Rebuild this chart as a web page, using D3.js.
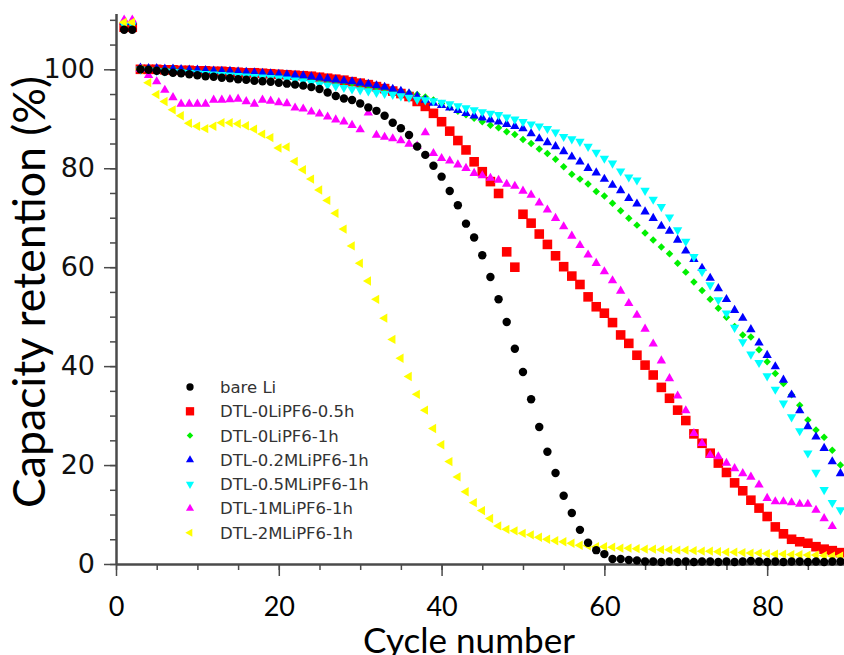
<!DOCTYPE html>
<html>
  <head>
    <title>Capacity retention vs cycle number</title>
    <meta charset="utf-8">
    <script src="https://d3js.org/d3.v7.min.js"></script>
    <style>
      body { margin: 0; background: #fff; }
      svg { display: block; }
    </style>
  </head>
  <body>
    <div id="chart"></div>

    <script>

        // capacity retention (%) per cycle, cycle 1 first
        const bareLi = [108, 108, 100, 99.9, 99.7, 99.5, 99.3, 99.2, 99.0, 98.8,
            98.6, 98.5, 98.3, 98.2, 98.0, 97.9, 97.7, 97.6, 97.5, 97.3,
            97.1, 96.9, 96.7, 96.4, 96.0, 95.3, 94.6, 94.1, 93.8, 93.1,
            92.3, 91.6, 90.6, 89.2, 88.1, 86.7, 84.4, 82.7, 80.5, 78.3,
            75.4, 72.5, 68.8, 66.0, 62.4, 58.0, 53.5, 48.9, 43.5, 38.8,
            33.3, 27.7, 22.7, 18.4, 13.8, 10.3, 6.9, 4.3, 2.8, 2.0,
            1.0, 1.0, 0.8, 0.7, 0.5, 0.5, 0.4, 0.5, 0.4, 0.5,
            0.4, 0.5, 0.5, 0.4, 0.5, 0.4, 0.5, 0.6, 0.5, 0.4,
            0.5, 0.4, 0.5, 0.5, 0.4, 0.5, 0.4, 0.5, 0.5]

        const dtl0_05h = [108.5, 108.5, 100, 100, 100, 99.9, 99.9, 99.8, 99.8, 99.7,
            99.7, 99.6, 99.6, 99.5, 99.4, 99.3, 99.3, 99.2, 99.1, 99.0,
            98.9, 98.8, 98.7, 98.6, 98.4, 98.2, 98.0, 97.8, 97.5, 97.2,
            96.9, 96.5, 96.1, 95.6, 95.1, 94.5, 93.5, 92.5, 91.1, 89.4,
            87.5, 85.6, 83.7, 81.3, 79.3, 77.3, 74.9, 63.1, 60.0, 70.7,
            68.9, 66.7, 64.6, 62.3, 60.1, 58.2, 56.5, 54.0, 52.0, 50.7,
            48.8, 46.3, 44.6, 42.2, 40.2, 38.2, 35.7, 33.5, 31.1, 29.0,
            26.3, 24.4, 22.4, 20.4, 18.5, 16.4, 14.8, 12.9, 11.3, 9.6,
            7.5, 6.1, 5.0, 4.5, 4.2, 3.5, 3.0, 2.7, 2.3]

        const dtl0_1h = [109, 109, 100.2, 100.3, 100.2, 100.1, 100.2, 100, 99.9, 99.8,
            99.7, 99.7, 99.6, 99.5, 99.4, 99.3, 99.2, 99.1, 99.0, 98.9,
            98.8, 98.6, 98.5, 98.3, 98.1, 97.9, 97.7, 97.5, 97.2, 97.0,
            96.7, 96.4, 96.1, 95.8, 95.5, 95.2, 94.9, 94.4, 93.8, 93.1,
            92.3, 91.5, 90.8, 90.1, 89.4, 88.7, 88.2, 87.4, 86.8, 85.8,
            85.0, 83.9, 83.0, 81.8, 80.3, 78.8, 77.8, 76.8, 75.3, 74.4,
            72.9, 71.4, 69.9, 68.5, 66.9, 65.5, 64.1, 62.7, 60.8, 59.0,
            57.0, 55.3, 53.5, 51.7, 49.9, 48.0, 46.3, 45.9, 43.3, 40.9,
            38.5, 36.5, 34.2, 32.1, 29.1, 27.1, 25.6, 23.0, 20.0]

        const dtl02M = [109.5, 109.5, 100.3, 100.2, 100.2, 100.1, 100.1, 100, 99.9, 99.9,
            99.8, 99.7, 99.6, 99.6, 99.5, 99.4, 99.3, 99.2, 99.1, 99.0,
            98.9, 98.8, 98.7, 98.5, 98.3, 98.1, 97.9, 97.7, 97.5, 97.2,
            97.0, 96.7, 96.4, 96.0, 95.6, 95.1, 94.5, 93.8, 93.2, 92.7,
            92.2, 91.7, 91.1, 90.6, 90.2, 89.8, 89.4, 88.9, 88.5, 88.0,
            87.0, 86.0, 85.2, 84.4, 83.4, 82.3, 81.3, 80.0, 79.1, 77.8,
            76.6, 75.5, 73.9, 72.8, 71.2, 69.9, 68.3, 67.3, 65.5, 63.3,
            61.6, 59.8, 57.8, 55.7, 53.5, 51.3, 49.7, 47.4, 44.7, 42.2,
            39.9, 37.2, 34.2, 31.0, 27.8, 25.7, 23.4, 20.7, 18.3]

        const dtl05M = [109, 109, 100, 99.8, 99.7, 99.6, 99.5, 99.4, 99.3, 99.2,
            99.1, 99.0, 98.9, 98.8, 98.7, 98.6, 98.5, 98.4, 98.3, 98.2,
            98.0, 97.8, 97.6, 97.3, 97.0, 96.8, 96.6, 96.3, 96.0, 95.8,
            95.6, 95.3, 95.1, 94.9, 94.6, 94.3, 93.9, 93.8, 93.6, 93.3,
            93.0, 92.6, 92.2, 91.8, 91.4, 91.1, 90.8, 90.3, 89.9, 89.4,
            88.9, 88.5, 88.0, 87.3, 86.4, 85.9, 85.4, 84.4, 83.2, 82.0,
            81.0, 79.4, 78.2, 77.6, 75.5, 73.7, 72.2, 70.1, 67.5, 65.2,
            62.1, 59.1, 56.4, 53.4, 50.7, 47.8, 44.9, 42.4, 40.7, 38.0,
            35.3, 32.5, 29.7, 26.9, 22.4, 18.5, 15.0, 12.4, 10.9]

        const dtl1M = [110, 110, 100, 98.8, 97.5, 95.8, 94.3, 93.0, 93.0, 93.0,
            93.0, 93.8, 93.8, 93.9, 94.0, 93.5, 93.0, 93.8, 93.6, 93.3,
            93.1, 92.2, 92.0, 91.4, 91.0, 90.4, 89.8, 89.4, 88.7, 87.8,
            91.2, 86.7, 86.3, 86.0, 85.6, 84.9, 84.5, 87.2, 83.0, 82.0,
            81.5, 80.7, 80.0, 79.0, 78.5, 78.0, 77.6, 76.8, 76.4, 75.4,
            74.6, 73.0, 71.6, 69.9, 68.2, 66.3, 64.4, 62.5, 60.8, 59.1,
            57.3, 55.2, 52.7, 50.3, 47.5, 44.5, 41.1, 37.5, 34.0, 31.0,
            26.4, 24.4, 22.0, 21.7, 20.4, 19.3, 18.3, 17.6, 16.0, 13.3,
            12.6, 12.6, 12.4, 12.1, 12.1, 10.9, 9.2, 7.6, null]

        const dtl2M = [109.5, 109.5, 100, 97.3, 94.9, 93.5, 91.8, 90.6, 89.1, 88.5,
            88.0, 88.5, 89.2, 89.2, 89.0, 88.6, 87.9, 86.9, 86.2, 84.1,
            84.3, 81.4, 79.7, 77.8, 75.6, 73.5, 70.9, 67.7, 64.3, 60.8,
            57.2, 53.5, 49.7, 45.4, 41.6, 37.9, 34.3, 31.1, 27.4, 24.1,
            20.7, 17.6, 14.6, 12.4, 10.8, 9.2, 7.7, 7.0, 6.7, 6.2,
            5.9, 5.4, 5.0, 4.7, 4.5, 4.2, 3.8, 3.7, 3.5, 3.5,
            3.4, 3.2, 3.2, 3.1, 3.0, 3.0, 2.9, 2.9, 2.8, 2.8,
            2.7, 2.6, 2.6, 2.5, 2.4, 2.4, 2.3, 2.2, 2.2, 2.1,
            2.0, 2.0, 1.9, 1.9, 1.8, 1.8, 1.7, 1.6, 1.6]

        const seriesNames  = ['bare Li', 'DTL-0LiPF6-0.5h', 'DTL-0LiPF6-1h', 'DTL-0.2MLiPF6-1h',
                              'DTL-0.5MLiPF6-1h', 'DTL-1MLiPF6-1h', 'DTL-2MLiPF6-1h']
        const seriesValues = [bareLi, dtl0_05h, dtl0_1h, dtl02M, dtl05M, dtl1M, dtl2M]
        const seriesColors = ['#000000', '#ff0000', '#00f000', '#0000ff', '#00ffff', '#ff00ff', '#ffff00']
        const seriesShapes = ['circle', 'square', 'diamond', 'up', 'down', 'up', 'left']

        const xMajorTicks = [0, 20, 40, 60, 80]
        const yMajorTicks = [0, 20, 40, 60, 80, 100]

        const W = 844, H = 655

        let svg = d3.select('#chart').append('svg')
                .attr('width', W)
                .attr('height', H),

            x = d3.scaleLinear().domain([0, 89.44]).range([116, 844]),
            y = d3.scaleLinear().domain([0, 111.3]).range([564, 13.4])

        function symbolPath(shape, scale) {
            let s = scale || 1
            if (shape == 'circle') return d3.symbol(d3.symbolCircle, 56 * s)()
            if (shape == 'square') return d3.symbol(d3.symbolSquare, 92 * s)()
            if (shape == 'diamond') return d3.symbol(d3.symbolSquare, 28 * s)()
            return d3.symbol(d3.symbolTriangle, 38 * s)()
        }

        function symbolRotation(shape) {
            if (shape == 'diamond') return 45
            if (shape == 'down') return 180
            if (shape == 'left') return -90
            return 0
        }

        // ---- axes ----
        let axisColor = '#4a4a4a'

        let yMinor = svg.append('g')
            .attr('transform', `translate(${x(0)},0)`)
            .call(d3.axisLeft(y).tickValues(d3.range(0, 111, 5)).tickSize(6).tickSizeOuter(0).tickFormat(''))
        let yMajor = svg.append('g')
            .attr('transform', `translate(${x(0)},0)`)
            .call(d3.axisLeft(y).tickValues(yMajorTicks).tickSize(12).tickSizeOuter(0))

        let xMinor = svg.append('g')
            .attr('transform', `translate(0,${y(0)})`)
            .call(d3.axisBottom(x).tickValues(d3.range(0, 90, 5)).tickSize(6).tickSizeOuter(0).tickFormat(''))
        let xMajor = svg.append('g')
            .attr('transform', `translate(0,${y(0)})`)
            .call(d3.axisBottom(x).tickValues(xMajorTicks).tickSize(12).tickSizeOuter(0))

        ;[yMinor, yMajor, xMinor, xMajor].forEach(g => {
            g.select('.domain').attr('stroke', axisColor).attr('stroke-width', 2)
            g.selectAll('.tick line').attr('stroke', axisColor).attr('stroke-width', 1.5)
        })

        yMajor.selectAll('.tick text')
            .attr('font-family', 'DejaVu Sans, sans-serif')
            .attr('font-size', 27)
            .attr('fill', '#111')
            .attr('x', -21)

        xMajor.selectAll('.tick text')
            .attr('font-family', 'Lato, sans-serif')
            .attr('font-size', 27)
            .attr('fill', '#000')
            .attr('dy', null)
            .attr('y', 52)

        // axis titles, sized to the width they take in the figure
        function fitText(sel, target) {
            let len = sel.node().getComputedTextLength(),
                fs = +sel.attr('font-size')
            sel.attr('font-size', fs * target / len)
        }

        let yTitle = svg.append('text')
            .attr('transform', 'translate(45,292) rotate(-90)')
            .attr('text-anchor', 'middle')
            .attr('font-family', 'Lato, sans-serif')
            .attr('font-size', 40)
            .attr('fill', '#000')
            .text('Capacity retention (%)')
        fitText(yTitle, 432)

        let xTitle = svg.append('text')
            .attr('x', 469)
            .attr('y', 653)
            .attr('text-anchor', 'middle')
            .attr('font-family', 'Lato, sans-serif')
            .attr('font-size', 38)
            .attr('fill', '#000')
            .text('Cycle number')
        fitText(xTitle, 212)

        // ---- data points ----
        let plot = svg.append('g')
        let drawOrder = [1, 2, 3, 4, 5, 6, 0]

        drawOrder.forEach(i => {
            let pts = seriesValues[i]
                .map((v, j) => ({ cycle: j + 1, value: v }))
                .filter(d => d.value != null)

            plot.append('g')
                .selectAll('path')
                .data(pts)
                .enter().append('path')
                    .attr('d', symbolPath(seriesShapes[i]))
                    .attr('transform', d => `translate(${x(d.cycle)},${y(d.value)}) rotate(${symbolRotation(seriesShapes[i])})`)
                    .attr('fill', seriesColors[i])
        })

        // ---- legend ----
        let legend = svg.append('g')

        seriesNames.forEach((name, i) => {
            let ly = 387 + i * 24.3
            legend.append('path')
                .attr('d', symbolPath(seriesShapes[i], 0.75))
                .attr('transform', `translate(190,${ly}) rotate(${symbolRotation(seriesShapes[i])})`)
                .attr('fill', seriesColors[i])
            legend.append('text')
                .attr('x', 220)
                .attr('y', ly)
                .attr('dy', '0.36em')
                .attr('font-family', 'DejaVu Sans, sans-serif')
                .attr('font-size', 16.5)
                .attr('fill', '#333')
                .text(name)
        })

    </script>
  </body>
</html>
